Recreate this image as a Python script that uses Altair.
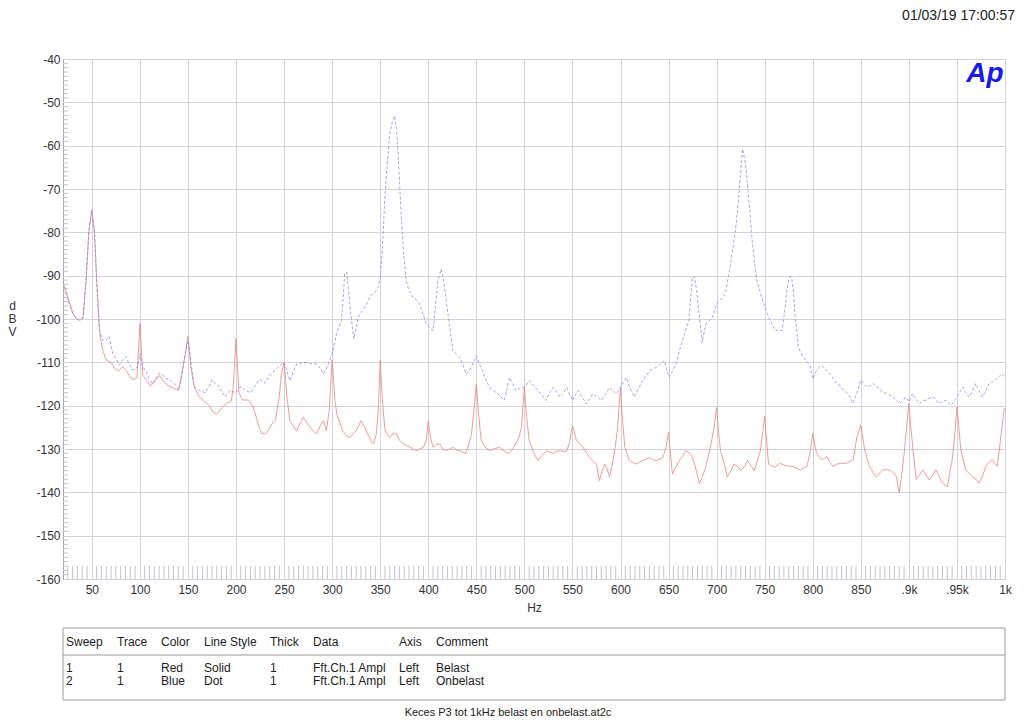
import altair as alt
import pandas as pd

# ---------------- data ----------------
red_f = [20, 25, 30, 34, 38, 41, 44, 47, 50, 52.8, 55, 58, 61, 65, 70, 74, 78, 82, 86, 90, 94, 97,
         100, 103, 107, 111, 115, 120, 125, 130, 135, 140, 145, 150, 153, 157, 162, 167, 172, 176,
         180, 185, 190, 195, 197, 200, 203, 207, 213, 217, 220, 224, 227, 231, 234, 238, 241, 245,
         247, 250, 253, 256, 260, 263, 267, 270, 274, 277, 281, 284, 288, 291, 294, 297, 300, 303,
         305, 308, 311, 315, 318, 322, 325, 330, 334, 337, 340, 343, 346, 348, 350, 352, 355, 360,
         363, 367, 370, 374, 377, 381, 384, 388, 391, 395, 398, 400, 402, 405, 408, 412, 415, 419,
         422, 426, 429, 433, 436, 439, 442, 445, 448, 450, 452, 455, 459, 464, 468, 474, 479, 484,
         488, 491, 494, 497, 500, 502, 505, 509, 514, 518, 523, 527, 530, 534, 537, 541, 544, 547,
         550, 552, 554, 558, 561, 565, 568, 572, 575, 578, 581, 583.5, 586, 588.6, 591, 594, 597,
         600, 602, 604.5, 609, 612, 616, 620, 623, 627, 630, 634, 637, 641, 644, 647, 650, 652, 654,
         658, 661, 665, 668, 672, 675, 679, 682, 685, 688.6, 692, 695.5, 698, 700, 702, 704, 708,
         711, 715, 718, 722, 725, 729, 732, 736, 739, 742, 745.5, 748, 750, 752, 754, 758, 761, 766,
         771, 776, 780, 784, 787, 791, 794, 797, 800, 802, 804, 809, 814.5, 818, 821, 825, 828, 835,
         842, 846, 850, 852, 854, 859, 863, 866, 870, 873, 880, 884, 887, 890, 893, 895.5, 898, 900,
         902, 904, 907.6, 911, 914.5, 918, 921, 925, 928, 932, 935, 940, 943, 945.5, 948, 950, 952,
         954, 959, 962, 966, 970, 973, 977, 980, 984, 987, 990, 992, 995.7, 999, 1000]
red_v = [-91.5, -95, -98.5, -100, -100.3, -99.5, -91, -79.5, -74.8, -80, -91, -103, -107, -109.5,
         -110, -111.5, -112, -111, -112, -113.5, -114, -113.5, -101, -113, -114, -115.5, -114.5,
         -113, -114.5, -115.5, -116, -116.5, -111, -104, -111, -116, -118, -119, -120, -121.5, -122,
         -120.5, -119.5, -119, -116, -104.5, -117, -118.7, -118.7, -120, -121.8, -125, -126.4,
         -126.5, -125.6, -124, -123.3, -118, -113, -110, -118, -123.5, -124.8, -125.8, -124, -122.7,
         -124, -125, -126, -126.5, -124.5, -123.5, -125.8, -121, -109.5, -119, -122, -124, -125.8,
         -127, -127.3, -126.5, -125.8, -123.5, -125, -126.5, -128, -128.8, -126.5, -121, -109.5,
         -118, -125.8, -127.3, -126.5, -126.5, -128, -128.8, -129.2, -129.6, -130, -130.4, -130,
         -129.6, -128, -123.5, -127, -129.6, -129, -128.8, -130, -130.4, -130, -129.6, -130.2,
         -130.4, -130.8, -131, -129, -126.5, -120, -115, -121, -128, -129.5, -130.4, -130, -129.6,
         -130.5, -131, -130, -128.8, -127.5, -125, -115.5, -122, -128, -130.5, -132.7, -131.5,
         -130.4, -130.8, -131, -130.5, -130.4, -130.6, -130.4, -128.5, -124.6, -126, -128, -129,
         -129.6, -131, -132, -133, -133.5, -137.3, -135, -133.5, -134.5, -136.5, -134, -130.4, -125,
         -115.8, -123, -129.6, -132.7, -133, -133.5, -133, -132.7, -132.3, -132, -132.5, -132.7,
         -132.3, -132, -130, -126.2, -131, -135.8, -134, -132.7, -131.5, -130.4, -131, -132, -135,
         -138, -136.5, -134.2, -131, -127.3, -124, -120.4, -126, -130.4, -133.5, -136.5, -135,
         -133.5, -134, -135, -134, -132.7, -134, -135, -133, -130.4, -126, -122.5, -128, -133.5,
         -134, -134.2, -133.3, -133.8, -134, -134, -134.5, -134.8, -134.3, -134, -131, -126.4, -129,
         -131, -132.5, -131.8, -133, -134, -133.5, -133.3, -133.3, -132.5, -127.2, -124.5, -127.5,
         -130.2, -134, -135.5, -136.4, -135.5, -134.8, -134.8, -135.5, -136.4, -140.2, -135, -130.2,
         -124, -119.5, -125, -129.5, -137.1, -136, -134.8, -136, -137.1, -136, -134.8, -136.5,
         -137.9, -138.7, -135, -131.8, -126, -120.3, -125, -130.2, -134.8, -135.5, -136.4, -137,
         -137.9, -136, -134, -133, -132.5, -133.5, -134, -127.2, -121, -120.5]

blue_f = [20, 25, 30, 34, 37, 41, 44, 47, 50, 52.8, 55, 58, 61, 64, 68, 71.7, 75, 78.6, 82, 85.5,
          89, 92.4, 95, 97.6, 100, 103, 106, 110, 113, 117, 120, 124, 127, 131, 135.5, 138, 140.7,
          143, 146, 150, 153, 156, 161, 165, 168, 172, 175, 179, 182, 186, 189, 192, 194, 197, 200,
          203, 206, 210, 215, 220, 224, 227, 230, 234, 237, 241, 244, 247, 250, 253, 256, 259, 263,
          268, 273, 278, 284, 288, 291, 294, 296, 300, 302, 304.5, 307, 309.7, 311.5, 313, 315,
          316.5, 318, 320, 322.5, 325, 327, 330, 332, 336, 339, 343, 346, 348, 350, 352, 354.7, 357,
          360, 362.5, 365, 366.8, 368.5, 370, 372, 374.5, 377, 380, 384, 387, 391, 394, 398, 401,
          405, 407.5, 410, 413.5, 416, 418.7, 422, 425.6, 429, 432.5, 436, 439.4, 442, 444.6, 447,
          450, 452.5, 455, 459, 463.7, 468, 472.3, 476, 479, 482, 484.4, 488, 491, 495, 500, 505,
          510, 514, 518, 522.5, 526, 530, 534, 537, 541, 544, 547, 550, 553, 556, 560, 564.5, 568,
          571, 576, 580, 584, 588.6, 592, 595.5, 600, 603, 606, 610, 614.5, 619, 623, 627, 630, 634,
          637, 641, 645.5, 648, 650.7, 654, 657.6, 661, 664.5, 668, 671, 673, 674.8, 677, 679.5,
          681.7, 683.5, 685, 687, 688.6, 692, 695.5, 698, 700, 703, 706, 709, 712, 714.5, 717,
          719.6, 721.5, 723, 725, 727, 729.5, 731.7, 734.5, 737, 739.5, 742, 745.5, 749, 751.5, 754,
          757.5, 761, 764.5, 768, 771, 773, 775, 776.5, 778, 780, 781.7, 783.5, 785, 790, 797, 800,
          804, 807, 811, 815, 818, 822, 825, 829, 832, 835, 838.6, 842, 845, 847, 850, 853, 856, 859,
          862.8, 866, 869.7, 873, 876.6, 880, 883.5, 887, 890, 893, 897, 900, 904, 907, 911, 914,
          918, 921, 925, 928, 932, 935, 938.6, 941, 944, 947, 950, 953, 955.9, 959, 962.8, 966,
          969.7, 973, 976.6, 980, 983.4, 987, 990, 993, 997, 1000]
blue_v = [-91.5, -95.5, -98.7, -100, -100.2, -99.8, -91, -79.5, -74.8, -80, -91, -102.5, -104.8,
          -105, -104, -108, -109, -110.6, -109.5, -108.7, -110.5, -111.8, -111.5, -111, -108, -111,
          -112, -114, -115, -113.5, -112.5, -113, -113.7, -114, -114.8, -115.5, -116.4, -114,
          -109.5, -105, -109.5, -115.6, -116.4, -116.8, -117, -115.5, -114, -115, -115.6, -117,
          -118, -117, -116.4, -116.8, -117, -116, -115.6, -116.5, -117, -115.5, -114, -114.2,
          -114.8, -113.5, -112.5, -111.8, -111, -110.5, -110, -112, -114.2, -112.5, -110.4, -110.2,
          -110, -110.3, -110.4, -111.5, -112.7, -111.5, -110.4, -108, -106, -103.5, -102, -100.4,
          -95, -89.6, -89.2, -92, -95.8, -100, -104.6, -102, -99.6, -98.5, -98, -96.5, -95, -94,
          -93.5, -92.5, -90.4, -85, -72.7, -65, -57.3, -54.5, -53.1, -56, -61.2, -68, -76.5, -85,
          -91.2, -93.5, -95, -95.5, -96.5, -98.5, -101.2, -102, -102.7, -97, -91.2, -88.5, -91,
          -95.8, -101.5, -107.3, -108, -108.8, -110.5, -112.7, -112, -111.2, -110, -108.5, -110,
          -111.2, -113.5, -115.8, -116.5, -117.3, -118, -118.8, -116, -113.5, -115, -116.5, -116,
          -115.8, -114.2, -115.5, -116.5, -117.5, -118.8, -117, -115.8, -117, -118, -117, -115.8,
          -117.3, -118.8, -117.5, -116.5, -118, -119.6, -118.5, -117.3, -118, -118.8, -117.5,
          -115.8, -116.5, -117.3, -115.8, -114.5, -113.5, -116, -118, -116, -114.2, -113, -112,
          -111.5, -111.2, -110.5, -109.6, -111.5, -113.5, -112, -110.4, -107.5, -105, -102.5,
          -100.4, -95, -90.4, -90.2, -94, -98.8, -102, -105.4, -103, -101.2, -100.5, -99.6, -98,
          -96.5, -95.8, -95, -94.2, -90.5, -87.3, -83.5, -79.6, -75.5, -71.9, -66, -60.8, -63.5,
          -68, -75, -82, -87, -91.2, -94, -96.5, -98, -99.6, -101.2, -102.7, -102.5, -102.7, -98,
          -93.5, -91, -90.2, -90.5, -94, -99.6, -103, -106.5, -108.8, -110.7, -113.8, -111.8, -111,
          -111, -112, -112.6, -114, -114.9, -115.5, -116.4, -117, -118, -119.5, -117.5, -116.4,
          -114.1, -115, -115.7, -115.5, -114.9, -115.5, -116.4, -116.8, -117.2, -117.5, -118,
          -118.8, -119.5, -119, -118, -119.1, -117.2, -118.5, -119.5, -119, -118.7, -118.3, -118,
          -118.8, -119.5, -119, -118.7, -119.3, -119.9, -119, -118, -116.8, -115.7, -117, -118,
          -116.5, -114.9, -116.5, -118, -116.5, -114.9, -114.5, -114.1, -113.5, -112.6, -113.4]

x_ticks = list(range(50, 1001, 50))
y_ticks = list(range(-160, -39, 10))
x_minor = [f for f in range(25, 1000, 5) if f % 50 != 0]
y_minor = [v for v in range(-159, -40) if v % 10 != 0]

header = ["Sweep", "Trace", "Color", "Line Style", "Thick", "Data", "Axis", "Comment"]
row1 = ["1", "1", "Red", "Solid", "1", "Fft.Ch.1 Ampl", "Left", "Belast"]
row2 = ["2", "1", "Blue", "Dot", "1", "Fft.Ch.1 Ampl", "Left", "Onbelast"]
timestamp = "01/03/19 17:00:57"
footer = "Keces P3 tot 1kHz belast en onbelast.at2c"

# ---------------- layout / style ----------------
W, H = 942, 520
FONT = "Liberation Sans"
GRID = "#d4d2da"
col_x = [3, 54, 98, 141, 207, 250, 336, 373]
row_y = [583, 609, 622]

red_df = pd.DataFrame({"f": red_f, "v": red_v})
blue_df = pd.DataFrame({"f": blue_f, "v": blue_v})
one = pd.DataFrame({"a": [0]})

xscale = alt.Scale(domain=[20, 1000], nice=False, zero=False)
yscale = alt.Scale(domain=[-160, -40], nice=False, zero=False)

x_axis = alt.Axis(values=x_ticks, grid=True, gridColor=GRID, gridWidth=1, domain=False,
                  ticks=False, labelFont=FONT, labelFontSize=12, labelColor="#333333",
                  labelPadding=5, labelFlush=False, labelOverlap=False,
                  labelExpr="datum.value == 900 ? '.9k' : datum.value == 950 ? '.95k' : datum.value == 1000 ? '1k' : '' + datum.value",
                  title="Hz", titleFont=FONT, titleFontSize=12,
                  titleFontWeight="normal", titleColor="#333333", titleY=28,
                  titleBaseline="middle")
y_axis = alt.Axis(values=y_ticks, grid=True, gridColor=GRID, gridWidth=1, domain=False,
                  ticks=False, labelFont=FONT, labelFontSize=12, labelColor="#333333",
                  labelPadding=3, labelFlush=False, labelOverlap=False,
                  labelExpr="'' + datum.value",
                  title=["d", "B", "V"], titleAngle=0, titleFont=FONT, titleFontSize=12,
                  titleFontWeight="normal", titleColor="#333333", titleX=-51, titleY=246,
                  titleAlign="center", titleBaseline="middle", titleLineHeight=13)

X = alt.X("f:Q", scale=xscale, axis=x_axis)
Y = alt.Y("v:Q", scale=yscale, axis=y_axis)

red_line = alt.Chart(red_df).mark_line(color="#ea8585", strokeWidth=0.9, opacity=0.9).encode(x=X, y=Y)
blue_line = alt.Chart(blue_df).mark_line(color="#9090e2", strokeWidth=0.9, opacity=0.9,
                                         strokeDash=[3, 2]).encode(x=X, y=Y)

xminor = alt.Chart(pd.DataFrame({"f": x_minor})).mark_rule(color="#c4c2ca", strokeWidth=1).encode(
    x=X, y=alt.value(H - 13), y2=alt.value(H),
)
yminor = alt.Chart(pd.DataFrame({"v": y_minor})).mark_rule(color="#c4c2ca", strokeWidth=1).encode(
    y=Y, x=alt.value(0), x2=alt.value(5),
)

layers = [red_line, blue_line, xminor, yminor]

# timestamp and logo
layers.append(alt.Chart(one).mark_text(font=FONT, fontSize=14, align="right", baseline="alphabetic",
                                       color="#222222").encode(
    x=alt.value(952), y=alt.value(-39), text=alt.value(timestamp)))
layers.append(alt.Chart(one).mark_text(font=FONT, fontSize=28, fontWeight="bold", fontStyle="italic",
                                       align="center", baseline="alphabetic", color="#1a1aee").encode(
    x=alt.value(922), y=alt.value(23), text=alt.value("Ap")))

# table box
layers.append(alt.Chart(one).mark_rect(fillOpacity=0, stroke="#9a9a9a", strokeWidth=1).encode(
    x=alt.value(0), x2=alt.value(W), y=alt.value(569), y2=alt.value(641)))
layers.append(alt.Chart(one).mark_rule(color="#9a9a9a", strokeWidth=1).encode(
    x=alt.value(0), x2=alt.value(W), y=alt.value(596)))

for row, ry in zip([header, row1, row2], row_y):
    for txt, cx in zip(row, col_x):
        layers.append(alt.Chart(one).mark_text(font=FONT, fontSize=12, align="left",
                                               baseline="middle", color="#222222").encode(
            x=alt.value(cx), y=alt.value(ry), text=alt.value(txt)))

layers.append(alt.Chart(one).mark_text(font=FONT, fontSize=11, align="center", baseline="middle",
                                       color="#222222").encode(
    x=alt.value(445), y=alt.value(654), text=alt.value(footer)))

chart = alt.layer(*layers).properties(
    width=W, height=H,
    autosize=alt.AutoSizeParams(type="none"),
    padding={"left": 55, "top": 51, "right": 11, "bottom": 142},
    background="white",
).configure_view(stroke="#a8a6ae", strokeWidth=1)

chart.save("out.html", embed_options={"renderer": "svg", "actions": False})
